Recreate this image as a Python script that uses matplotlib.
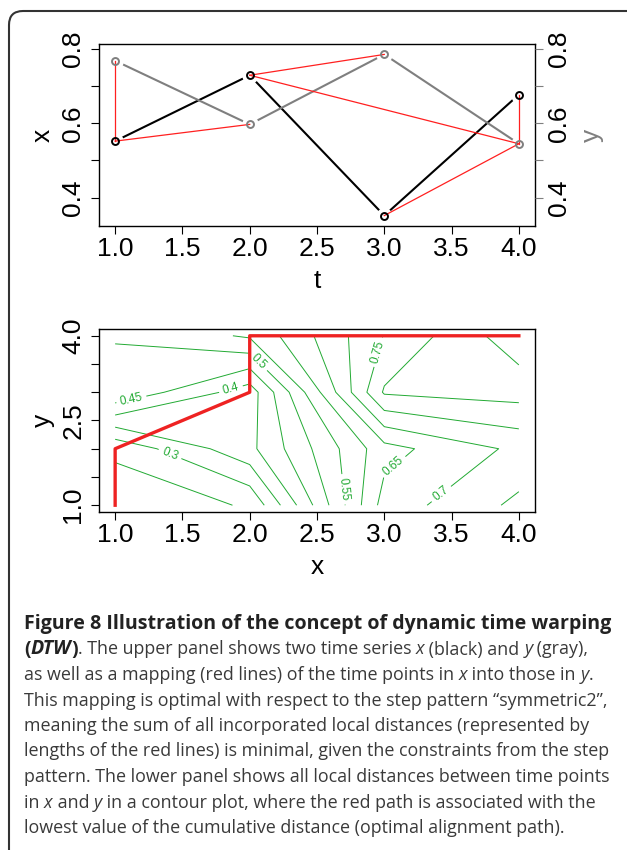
import matplotlib
matplotlib.use("Agg")
import matplotlib.pyplot as plt
from matplotlib.patches import FancyBboxPatch

plt.rcParams.update({"font.family": ["Liberation Sans", "DejaVu Sans"]})

# upper panel: two time series
T = [1, 2, 3, 4]
X_SER = [0.552, 0.729, 0.352, 0.677]
Y_SER = [0.768, 0.597, 0.785, 0.545]
# optimal warping path (index in x, index in y)
PATH_I = [1, 1, 2, 2, 3, 4]
PATH_J = [1, 2, 3, 4, 4, 4]
# cumulative distance matrix, rows = y index 1..4, cols = x index 1..4
CUM = [[0.216, 0.255, 0.671, 0.762],
       [0.261, 0.387, 0.632, 0.712],
       [0.494, 0.373, 0.806, 0.820],
       [0.501, 0.557, 0.752, 0.882]]
PLAIN_LEVELS = [0.25, 0.35, 0.60, 0.80, 0.85]
LABEL_LEVELS = [0.30, 0.40, 0.45, 0.50, 0.55, 0.65, 0.70, 0.75]
LABEL_POS = [(1.41, 1.92), (1.86, 3.06), (1.12, 2.88), (2.06, 3.53),
             (2.69, 1.28), (3.09, 1.63), (3.44, 1.15), (2.97, 3.70)]

CAPTION = [
    [("Figure 8 Illustration of the concept of dynamic time warping", "b")],
    [("(", "b"), ("DTW", "bi"), (")", "b"), (". The upper panel shows two time series ", "n"),
     ("x", "i"), (" (black) and ", "n"), ("y", "i"), (" (gray),", "n")],
    [("as well as a mapping (red lines) of the time points in ", "n"), ("x", "i"),
     (" into those in ", "n"), ("y", "i"), (".", "n")],
    [("This mapping is optimal with respect to the step pattern \u201csymmetric2\u201d,", "n")],
    [("meaning the sum of all incorporated local distances (represented by", "n")],
    [("lengths of the red lines) is minimal, given the constraints from the step", "n")],
    [("pattern. The lower panel shows all local distances between time points", "n")],
    [("in ", "n"), ("x", "i"), (" and ", "n"), ("y", "i"),
     (" in a contour plot, where the red path is associated with the", "n")],
    [("lowest value of the cumulative distance (optimal alignment path).", "n")],
]

W, H = 627, 850
FS = 19
GREEN = "#22aa33"
TICKLEN = 5.8

fig = plt.figure(figsize=(W / 100, H / 100), dpi=100)


def frac_box(left, top, right, bottom):
    return [left / W, 1 - bottom / H, (right - left) / W, (bottom - top) / H]


def rot_ylabels(ax):
    for lb in ax.get_yticklabels():
        lb.set_rotation(90)
        lb.set_va("center")


# ---- upper panel ----
ax = fig.add_axes(frac_box(99, 44, 535, 226))
ax.plot(T, X_SER, color="black", lw=1.5, zorder=2)
ax.plot(T, Y_SER, color="#7f7f7f", lw=1.5, zorder=2)
# gaps around points like R type="b"
ax.plot(T, X_SER, "o", ms=12, mfc="white", mec="none", zorder=3)
ax.plot(T, Y_SER, "o", ms=12, mfc="white", mec="none", zorder=3)
for i, j in zip(PATH_I, PATH_J):
    ax.plot([T[i - 1], T[j - 1]], [X_SER[i - 1], Y_SER[j - 1]], color="#ff2020", lw=0.9, zorder=4)
ax.plot(T, X_SER, "o", ms=5, mfc="none", mec="black", mew=1.4, zorder=5)
ax.plot(T, Y_SER, "o", ms=5, mfc="none", mec="#7f7f7f", mew=1.4, zorder=5)
ax.set_xlim(0.88, 4.12)
ax.set_ylim(0.324, 0.813)
ax.set_xticks([1.0, 1.5, 2.0, 2.5, 3.0, 3.5, 4.0])
ax.set_yticks([0.4, 0.5, 0.6, 0.7, 0.8])
ax.set_yticklabels(["0.4", "", "0.6", "", "0.8"])
ax.tick_params(direction="out", length=TICKLEN, width=0.8, labelsize=FS, pad=2)
ax.tick_params(axis="y", pad=4)
rot_ylabels(ax)
ax.set_xlabel("t", fontsize=FS, labelpad=6)
ax.set_ylabel("x", fontsize=FS, labelpad=5)
for s in ax.spines.values():
    s.set_linewidth(1.0)

ax_r = ax.twinx()
ax_r.set_ylim(ax.get_ylim())
ax_r.set_yticks([0.4, 0.5, 0.6, 0.7, 0.8])
ax_r.set_yticklabels(["0.4", "", "0.6", "", "0.8"])
ax_r.tick_params(direction="out", length=TICKLEN, width=0.8, labelsize=FS, pad=3,
                 color="#7f7f7f", labelcolor="black")
rot_ylabels(ax_r)
ax_r.set_ylabel("y", fontsize=FS, color="#7f7f7f", labelpad=6)
for s in ax_r.spines.values():
    s.set_visible(False)

# ---- lower panel ----
ax2 = fig.add_axes(frac_box(99, 329, 535, 512))
ax2.contour(T, T, CUM, levels=PLAIN_LEVELS, colors=GREEN, linewidths=0.7)
cs = ax2.contour(T, T, CUM, levels=LABEL_LEVELS, colors=GREEN, linewidths=0.7)
ax2.clabel(cs, manual=LABEL_POS, inline=True, fontsize=8.5, fmt="%g", inline_spacing=5)
ax2.plot(PATH_I, PATH_J, color="#ee2222", lw=2.4, zorder=5)
ax2.set_xlim(0.88, 4.12)
ax2.set_ylim(0.88, 4.12)
ax2.set_xticks([1.0, 1.5, 2.0, 2.5, 3.0, 3.5, 4.0])
ax2.set_yticks([1.0, 1.5, 2.0, 2.5, 3.0, 3.5, 4.0])
ax2.set_yticklabels(["1.0", "", "", "2.5", "", "", "4.0"])
ax2.tick_params(direction="out", length=TICKLEN, width=0.8, labelsize=FS, pad=2)
ax2.tick_params(axis="y", pad=4)
rot_ylabels(ax2)
ax2.set_xlabel("x", fontsize=FS, labelpad=6)
ax2.set_ylabel("y", fontsize=FS, labelpad=5)
for s in ax2.spines.values():
    s.set_linewidth(1.0)

# ---- rounded frame ----
frame = FancyBboxPatch((0.09, -0.5), 7.0, 8.89, boxstyle="round,pad=0,rounding_size=0.14",
                       transform=fig.dpi_scale_trans, fill=False, ec="#333333", lw=1.5,
                       clip_on=False)
fig.add_artist(frame)

# ---- caption ----
STY = {"n": dict(weight="normal", style="normal", color="#3a3a3a"),
       "b": dict(weight="bold", style="normal", color="#222222"),
       "i": dict(weight="normal", style="italic", color="#3a3a3a"),
       "bi": dict(weight="bold", style="italic", color="#222222")}
CAP_FONT = ["Open Sans", "DejaVu Sans"]
renderer = fig.canvas.get_renderer()


def run_width(s, size, sty):
    a = fig.text(0, 0, "|" + s + "|", fontsize=size, family=CAP_FONT, **STY[sty])
    b = fig.text(0, 0, "||", fontsize=size, family=CAP_FONT, **STY[sty])
    w = a.get_window_extent(renderer).width - b.get_window_extent(renderer).width
    a.remove()
    b.remove()
    return w


# fit body and bold sizes to the line widths of the reference
cap_fs = 10 * 589 / run_width(CAPTION[5][0][0], 10, "n")
bold_fs = 10 * 591 / run_width(CAPTION[0][0][0], 10, "b")
SIZE = {"n": cap_fs, "i": cap_fs, "b": bold_fs, "bi": bold_fs}

x0, base0, step = 24, 629, 25.5
for k, line in enumerate(CAPTION):
    x = x0
    y = base0 + k * step
    for s, sty in line:
        fig.text(x / W, 1 - y / H, s, fontsize=SIZE[sty], family=CAP_FONT, va="baseline",
                 ha="left", **STY[sty])
        x += run_width(s, SIZE[sty], sty)

fig.savefig("out.png", dpi=100)
